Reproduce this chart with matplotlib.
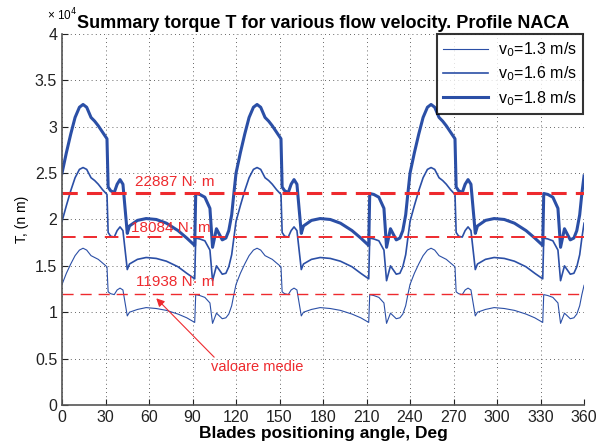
import matplotlib
matplotlib.use("Agg")
import matplotlib.pyplot as plt
from matplotlib.ticker import FormatStrFormatter

# blade angle, deg (three blade periods of 120 deg)
angle = [
    0, 3, 6, 9, 12, 14.5, 17, 20, 22.5, 25, 28, 31, 31.8, 33.5, 36, 38, 40, 42, 45, 46.5,
    52, 58, 65, 72, 80, 86, 91.5, 92.2, 95, 98.5, 102, 103.8, 106.5, 110.5, 113, 115, 117, 118.5,
    120, 123, 126, 129, 132, 134.5, 137, 140, 142.5, 145, 148, 151, 151.8, 153.5, 156, 158, 160, 162, 165, 166.5,
    172, 178, 185, 192, 200, 206, 211.5, 212.2, 215, 218.5, 222, 223.8, 226.5, 230.5, 233, 235, 237, 238.5,
    240, 243, 246, 249, 252, 254.5, 257, 260, 262.5, 265, 268, 271, 271.8, 273.5, 276, 278, 280, 282, 285, 286.5,
    292, 298, 305, 312, 320, 326, 331.5, 332.2, 335, 338.5, 342, 343.8, 346.5, 350.5, 353, 355, 357, 358.5,
    360,
]

# summary torque, x 10^4 N m
t_13 = [
    1.30, 1.42, 1.52, 1.61, 1.67, 1.69, 1.67, 1.61, 1.59, 1.57, 1.53, 1.49, 1.22, 1.20, 1.19, 1.24, 1.26, 1.24, 0.96, 1.00,
    1.03, 1.05, 1.04, 1.02, 0.98, 0.94, 0.89, 1.19, 1.18, 1.16, 1.10, 0.88, 0.99, 0.93, 0.94, 0.98, 1.07, 1.19,
    1.30, 1.42, 1.52, 1.61, 1.67, 1.69, 1.67, 1.61, 1.59, 1.57, 1.53, 1.49, 1.22, 1.20, 1.19, 1.24, 1.26, 1.24, 0.96, 1.00,
    1.03, 1.05, 1.04, 1.02, 0.98, 0.94, 0.89, 1.19, 1.18, 1.16, 1.10, 0.88, 0.99, 0.93, 0.94, 0.98, 1.07, 1.19,
    1.30, 1.42, 1.52, 1.61, 1.67, 1.69, 1.67, 1.61, 1.59, 1.57, 1.53, 1.49, 1.22, 1.20, 1.19, 1.24, 1.26, 1.24, 0.96, 1.00,
    1.03, 1.05, 1.04, 1.02, 0.98, 0.94, 0.89, 1.19, 1.18, 1.16, 1.10, 0.88, 0.99, 0.93, 0.94, 0.98, 1.07, 1.19,
    1.29,
]
t_16 = [
    1.98, 2.15, 2.31, 2.45, 2.54, 2.56, 2.54, 2.45, 2.42, 2.38, 2.32, 2.27, 1.86, 1.82, 1.81, 1.88, 1.92, 1.88, 1.46, 1.52,
    1.57, 1.59, 1.58, 1.55, 1.49, 1.42, 1.36, 1.80, 1.79, 1.77, 1.67, 1.34, 1.50, 1.41, 1.42, 1.49, 1.62, 1.80,
    1.98, 2.15, 2.31, 2.45, 2.54, 2.56, 2.54, 2.45, 2.42, 2.38, 2.32, 2.27, 1.86, 1.82, 1.81, 1.88, 1.92, 1.88, 1.46, 1.52,
    1.57, 1.59, 1.58, 1.55, 1.49, 1.42, 1.36, 1.80, 1.79, 1.77, 1.67, 1.34, 1.50, 1.41, 1.42, 1.49, 1.62, 1.80,
    1.98, 2.15, 2.31, 2.45, 2.54, 2.56, 2.54, 2.45, 2.42, 2.38, 2.32, 2.27, 1.86, 1.82, 1.81, 1.88, 1.92, 1.88, 1.46, 1.52,
    1.57, 1.59, 1.58, 1.55, 1.49, 1.42, 1.36, 1.80, 1.79, 1.77, 1.67, 1.34, 1.50, 1.41, 1.42, 1.49, 1.62, 1.80,
    1.96,
]
t_18 = [
    2.50, 2.72, 2.92, 3.10, 3.21, 3.24, 3.21, 3.10, 3.06, 3.01, 2.94, 2.87, 2.35, 2.31, 2.29, 2.38, 2.43, 2.38, 1.85, 1.93,
    1.99, 2.01, 2.00, 1.96, 1.88, 1.80, 1.72, 2.28, 2.27, 2.24, 2.12, 1.70, 1.90, 1.78, 1.80, 1.88, 2.05, 2.28,
    2.50, 2.72, 2.92, 3.10, 3.21, 3.24, 3.21, 3.10, 3.06, 3.01, 2.94, 2.87, 2.35, 2.31, 2.29, 2.38, 2.43, 2.38, 1.85, 1.93,
    1.99, 2.01, 2.00, 1.96, 1.88, 1.80, 1.72, 2.28, 2.27, 2.24, 2.12, 1.70, 1.90, 1.78, 1.80, 1.88, 2.05, 2.28,
    2.50, 2.72, 2.92, 3.10, 3.21, 3.24, 3.21, 3.10, 3.06, 3.01, 2.94, 2.87, 2.35, 2.31, 2.29, 2.38, 2.43, 2.38, 1.85, 1.93,
    1.99, 2.01, 2.00, 1.96, 1.88, 1.80, 1.72, 2.28, 2.27, 2.24, 2.12, 1.70, 1.90, 1.78, 1.80, 1.88, 2.05, 2.28,
    2.47,
]

# mean values, N m
mean_vals = [22887, 18084, 11938]
mean_labels = ["22887 N\u00b7 m", "18084 N\u00b7 m", "11938 N\u00b7 m"]
legend_labels = ["v$_0$=1.3 m/s", "v$_0$=1.6 m/s", "v$_0$=1.8 m/s"]

blue = "#2b4fa6"
red = "#ee2a2e"
plt.rcParams['font.family'] = ['Liberation Sans', 'DejaVu Sans']

fig = plt.figure(figsize=(5.97, 4.47), dpi=100)
ax = fig.add_axes([0.1039, 0.094, 0.8744, 0.830])

ax.plot(angle, t_13, color=blue, lw=0.8, label=legend_labels[0])
ax.plot(angle, t_16, color=blue, lw=1.2, label=legend_labels[1])
ax.plot(angle, t_18, color=blue, lw=2.2, label=legend_labels[2])

ax.axhline(mean_vals[0] / 1e4, color=red, lw=2.2, ls=(0, (5, 3)))
ax.axhline(mean_vals[1] / 1e4, color=red, lw=1.4, ls=(0, (7, 4)))
ax.axhline(mean_vals[2] / 1e4, color=red, lw=1.0, ls=(0, (8, 5)))
ax.text(50, mean_vals[0] / 1e4 + 0.12, mean_labels[0], color=red, fontsize=11, va='center')
ax.text(47.5, mean_vals[1] / 1e4 + 0.10, mean_labels[1], color=red, fontsize=11, va='center')
ax.text(51, mean_vals[2] / 1e4 + 0.13, mean_labels[2], color=red, fontsize=11, va='center')

ax.annotate("valoare medie", xy=(65, 1.15), xytext=(103, 0.41), color=red, fontsize=10.5,
            va='center', arrowprops=dict(arrowstyle='-|>', color=red, lw=0.8,
                                         shrinkA=0, shrinkB=0, mutation_scale=12,
                                         relpos=(0.06, 1.0)))

ax.set_xlim(0, 360)
ax.set_ylim(0, 4)
ax.set_xticks(range(0, 361, 30))
ax.set_yticks([0, 0.5, 1, 1.5, 2, 2.5, 3, 3.5, 4])
ax.yaxis.set_major_formatter(FormatStrFormatter('%g'))
ax.tick_params(direction='in', length=4, labelsize=11.5, colors='#222222')
ax.grid(True, color='#333333', ls=(0, (1, 4)), lw=0.6)
for s in ['top', 'right']:
    ax.spines[s].set_visible(False)
for s in ['left', 'bottom']:
    ax.spines[s].set_color('#555555')
    ax.spines[s].set_linewidth(1.2)

ax.set_xlabel("Blades positioning angle, Deg", fontsize=12.5, fontweight='bold', labelpad=1)
ax.set_ylabel("T, (n m)", fontsize=10, labelpad=4)

ax.text(0.028, 1.03, "\u00d7 10$^4$", transform=ax.transAxes, fontsize=8.5, ha='right', va='bottom')
ax.set_title("Summary torque T for various flow velocity. Profile NACA",
             fontsize=13, fontweight='bold', family=['Liberation Sans Narrow', 'Liberation Sans'],
             pad=4)

leg = ax.legend(loc='upper right', bbox_to_anchor=(0.998, 1.0), fontsize=11.5, frameon=True,
                fancybox=False, borderaxespad=0, handlelength=2.8, handletextpad=0.6,
                labelspacing=0.35, borderpad=0.4)
leg.get_frame().set_edgecolor('black')
leg.get_frame().set_linewidth(1.5)

fig.savefig("out.png", dpi=100)
